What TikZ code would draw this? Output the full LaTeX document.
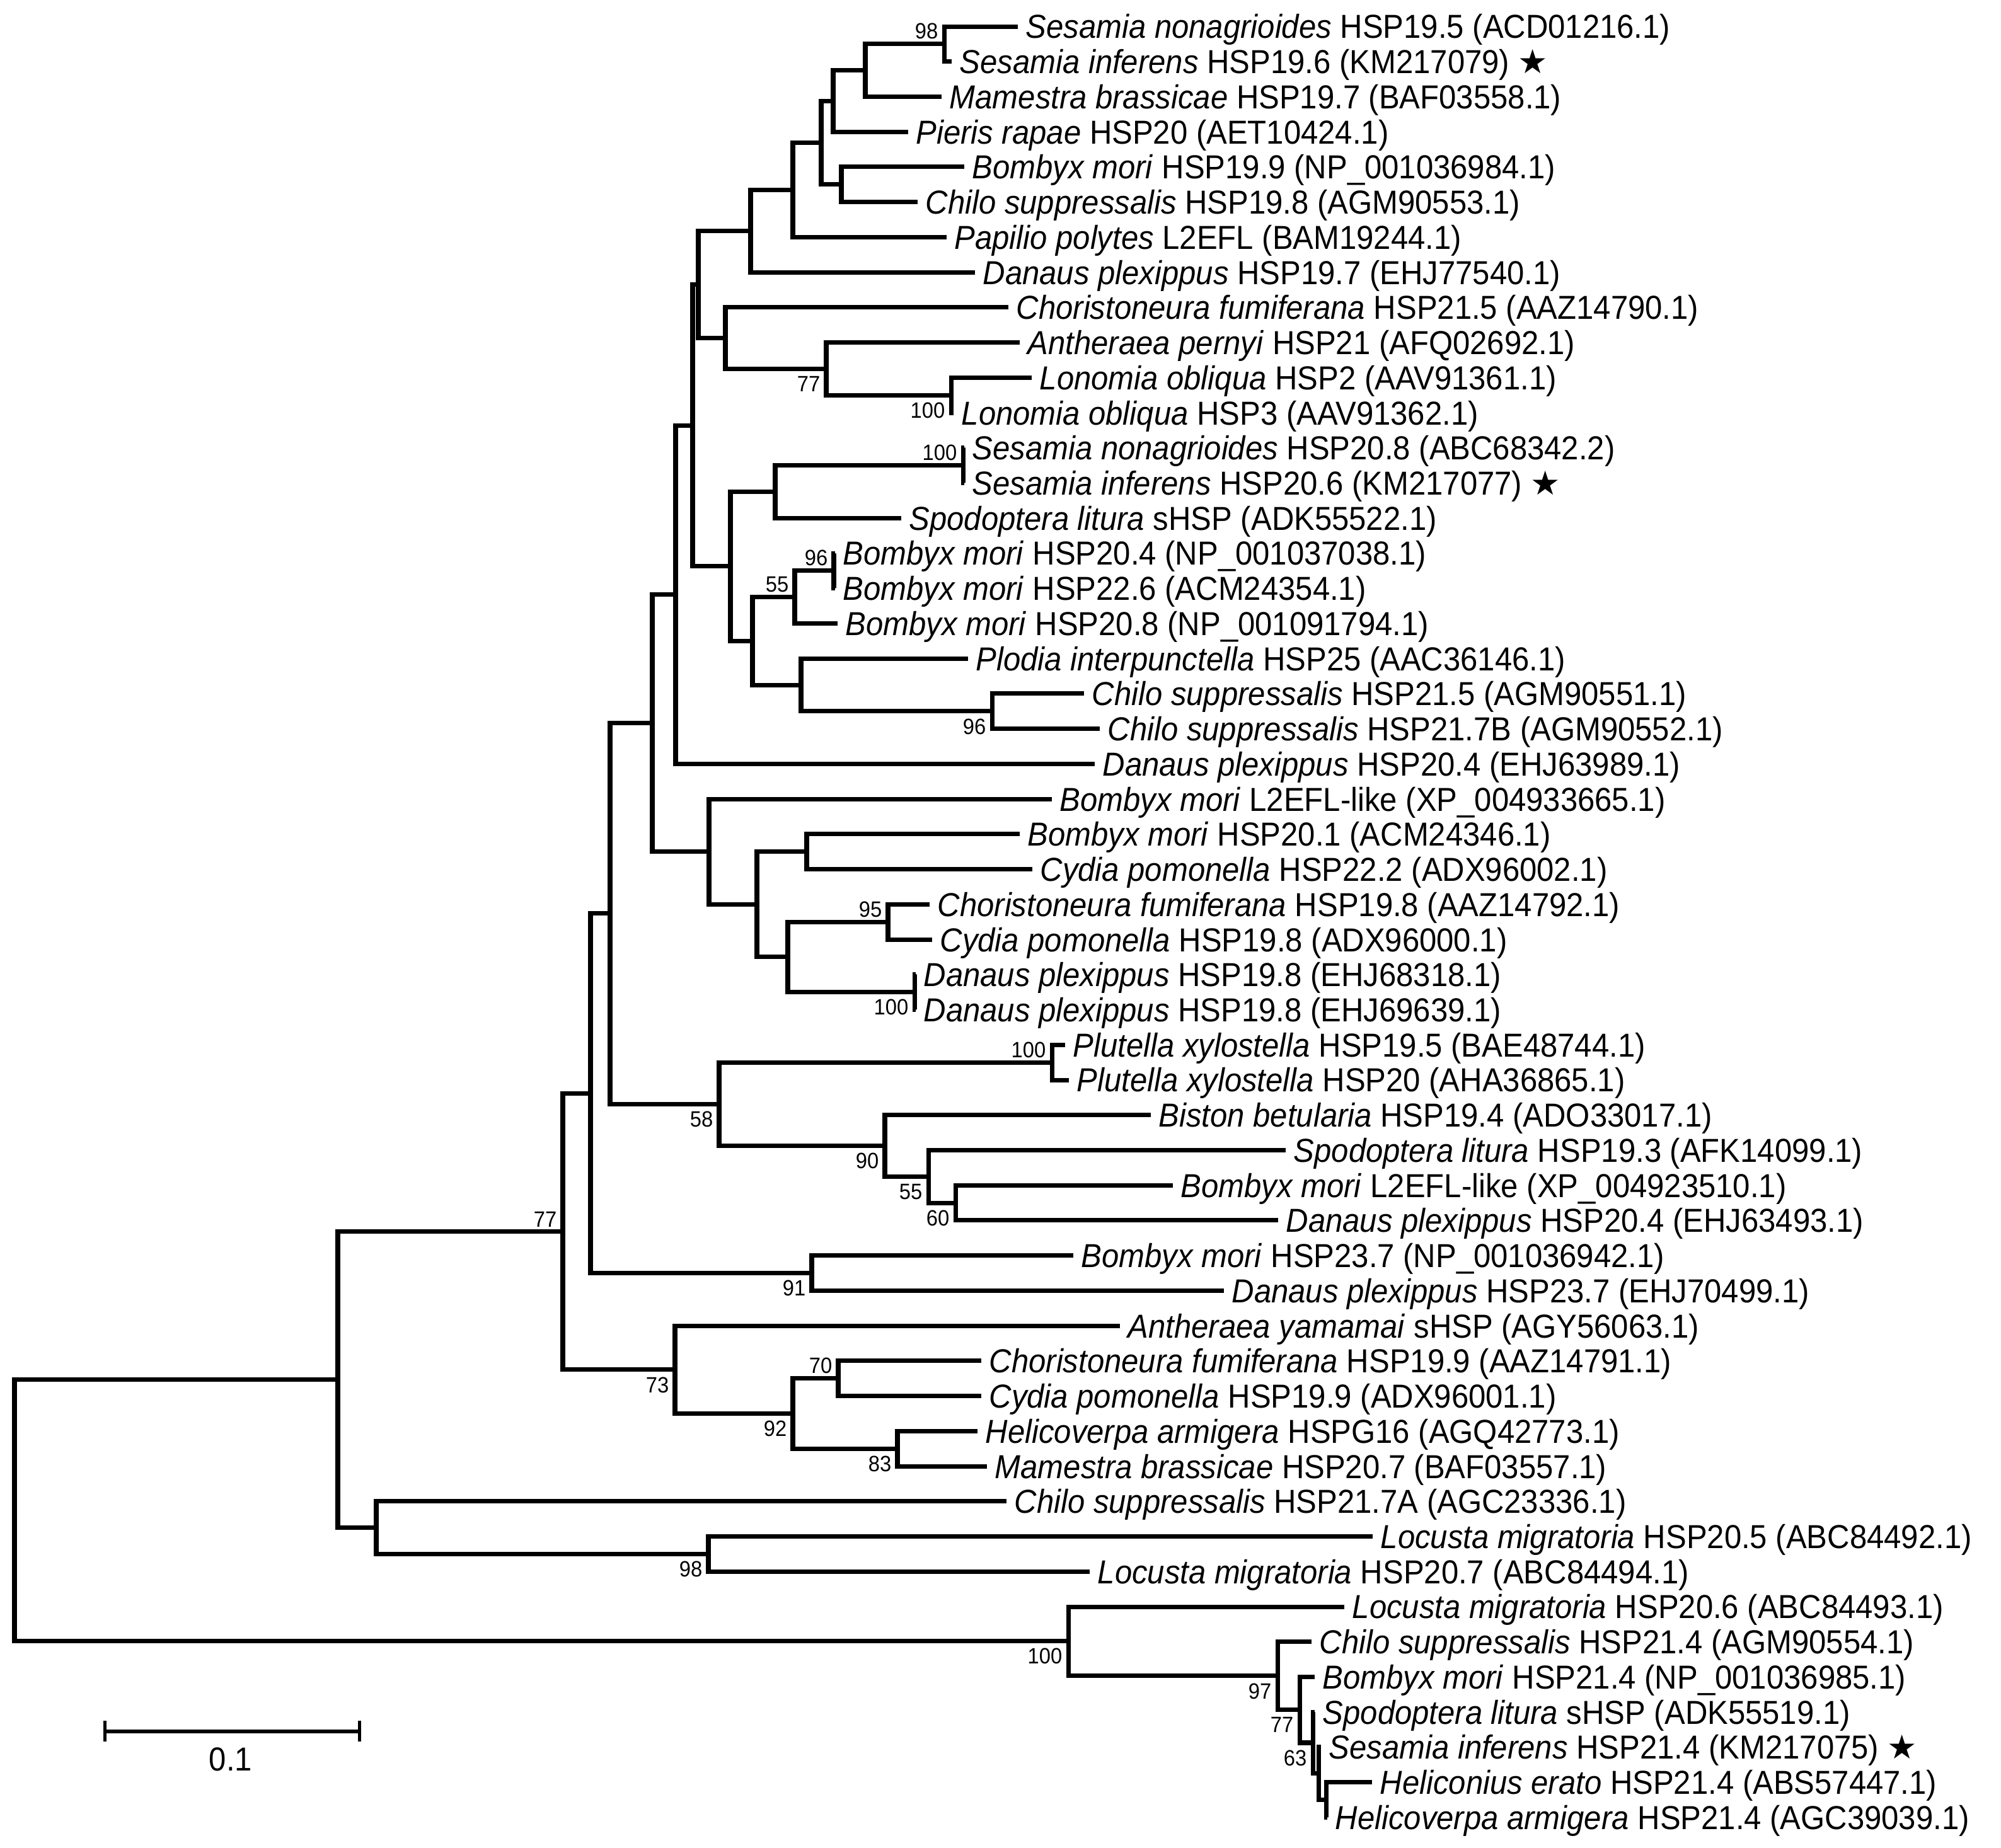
\documentclass[tikz,border=0pt]{standalone}
\usepackage{fontspec}
\setmainfont{Liberation Sans}[FakeStretch=0.93]
\newfontfamily\starfont{DejaVu Sans}
\usepackage{tikz}
\usetikzlibrary{arrows.meta,positioning}
\newcommand{\leaffont}{\fontsize{15}{17}\selectfont}
\newcommand{\bsfont}{\fontsize{10}{12}\selectfont}
\newcommand{\starsym}{{\starfont ★}}
\tikzset{
    %Define style for tree branches
    branch/.style={
           line width=2pt,
           line join=miter,
           line cap=butt},
    %Define style for taxon labels
    leaf/.style={
           anchor=west,
           inner xsep=0.12cm,
           inner ysep=0pt,
           text height=0.5cm,
           text depth=0.122cm,
           font=\leaffont},
    % Define styles for bootstrap values
    bsup/.style={
           anchor=south east,
           inner sep=0pt,
           xshift=-0.09cm,
           yshift=0.07cm,
           font=\bsfont},
    bsdown/.style={
           anchor=north east,
           inner sep=0pt,
           xshift=-0.09cm,
           yshift=-0.11cm,
           font=\bsfont},
    % Define scale bar style
    scalebar/.style={
           line width=1.5pt,
           {Bar[width=0.33cm]}-{Bar[width=0.33cm]}}
}

\begin{document}
\begin{tikzpicture}[x=0.01cm,y=-0.557cm]
\useasboundingbox (0,0.246) rectangle (3175,52.87);
% taxa
\foreach \idx/\xt/\spname/\gname in {
  1/1615/Sesamia nonagrioides/HSP19.5 (ACD01216.1),
  2/1510/Sesamia inferens/HSP19.6 (KM217079) \starsym,
  3/1494/Mamestra brassicae/HSP19.7 (BAF03558.1),
  4/1441/Pieris rapae/HSP20 (AET10424.1),
  5/1530/Bombyx mori/HSP19.9 (NP\_001036984.1),
  6/1456/Chilo suppressalis/HSP19.8 (AGM90553.1),
  7/1502/Papilio polytes/L2EFL (BAM19244.1),
  8/1547/Danaus plexippus/HSP19.7 (EHJ77540.1),
  9/1600/Choristoneura fumiferana/HSP21.5 (AAZ14790.1),
  10/1618/Antheraea pernyi/HSP21 (AFQ02692.1),
  11/1637/Lonomia obliqua/HSP2 (AAV91361.1),
  12/1513/Lonomia obliqua/HSP3 (AAV91362.1),
  13/1530/Sesamia nonagrioides/HSP20.8 (ABC68342.2),
  14/1530/Sesamia inferens/HSP20.6 (KM217077) \starsym,
  15/1430/Spodoptera litura/sHSP (ADK55522.1),
  16/1325/Bombyx mori/HSP20.4 (NP\_001037038.1),
  17/1325/Bombyx mori/HSP22.6 (ACM24354.1),
  18/1329/Bombyx mori/HSP20.8 (NP\_001091794.1),
  19/1536/Plodia interpunctella/HSP25 (AAC36146.1),
  20/1720/Chilo suppressalis/HSP21.5 (AGM90551.1),
  21/1745/Chilo suppressalis/HSP21.7B (AGM90552.1),
  22/1737/Danaus plexippus/HSP20.4 (EHJ63989.1),
  23/1669/Bombyx mori/L2EFL-like (XP\_004933665.1),
  24/1618/Bombyx mori/HSP20.1 (ACM24346.1),
  25/1638/Cydia pomonella/HSP22.2 (ADX96002.1),
  26/1475/Choristoneura fumiferana/HSP19.8 (AAZ14792.1),
  27/1479/Cydia pomonella/HSP19.8 (ADX96000.1),
  28/1453/Danaus plexippus/HSP19.8 (EHJ68318.1),
  29/1453/Danaus plexippus/HSP19.8 (EHJ69639.1),
  30/1690/Plutella xylostella/HSP19.5 (BAE48744.1),
  31/1696/Plutella xylostella/HSP20 (AHA36865.1),
  32/1826/Biston betularia/HSP19.4 (ADO33017.1),
  33/2040/Spodoptera litura/HSP19.3 (AFK14099.1),
  34/1861/Bombyx mori/L2EFL-like (XP\_004923510.1),
  35/2028/Danaus plexippus/HSP20.4 (EHJ63493.1),
  36/1703/Bombyx mori/HSP23.7 (NP\_001036942.1),
  37/1942/Danaus plexippus/HSP23.7 (EHJ70499.1),
  38/1777/Antheraea yamamai/sHSP (AGY56063.1),
  39/1557/Choristoneura fumiferana/HSP19.9 (AAZ14791.1),
  40/1557/Cydia pomonella/HSP19.9 (ADX96001.1),
  41/1551/Helicoverpa armigera/HSPG16 (AGQ42773.1),
  42/1566/Mamestra brassicae/HSP20.7 (BAF03557.1),
  43/1597/Chilo suppressalis/HSP21.7A (AGC23336.1),
  44/2178/Locusta migratoria/HSP20.5 (ABC84492.1),
  45/1729/Locusta migratoria/HSP20.7 (ABC84494.1),
  46/2133/Locusta migratoria/HSP20.6 (ABC84493.1),
  47/2081/Chilo suppressalis/HSP21.4 (AGM90554.1),
  48/2086/Bombyx mori/HSP21.4 (NP\_001036985.1),
  49/2086/Spodoptera litura/sHSP (ADK55519.1),
  50/2096/Sesamia inferens/HSP21.4 (KM217075) \starsym,
  51/2177/Heliconius erato/HSP21.4 (ABS57447.1),
  52/2106/Helicoverpa armigera/HSP21.4 (AGC39039.1)}
  \node[leaf] (l\idx) at (\xt,\idx) {\textit{\spname} \gname};

% internal nodes
\coordinate (n98) at (1498,1.5);
\coordinate (nA) at (1373,2.25);
\coordinate (nB) at (1322,3.125);
\coordinate (nD) at (1335,5.5);
\coordinate (nC) at (1303,4.3125);
\coordinate (nE) at (1258,5.656);
\coordinate (nF) at (1191,6.828);
\coordinate (n100a) at (1509,11.5);
\coordinate (n77a) at (1311,10.75);
\coordinate (nH) at (1151,9.875);
\coordinate (nG) at (1108,8.352);
\coordinate (n100b) at (1528,13.5);
\coordinate (nM) at (1230,14.25);
\coordinate (n96a) at (1323,16.5);
\coordinate (n55a) at (1261,17.25);
\coordinate (n96b) at (1574,20.5);
\coordinate (nO) at (1271,19.75);
\coordinate (nN) at (1194,18.5);
\coordinate (nL) at (1159,16.375);
\coordinate (nI) at (1099,12.363);
\coordinate (nK) at (1072,17.18);
\coordinate (nT) at (1280,24.5);
\coordinate (n95) at (1409,26.5);
\coordinate (n100c) at (1451,28.5);
\coordinate (nU) at (1250,27.5);
\coordinate (nS) at (1201,26);
\coordinate (nQ) at (1125,24.5);
\coordinate (nP) at (1035,20.84);
\coordinate (n100e) at (1669,30.5);
\coordinate (n60) at (1516,34.5);
\coordinate (n55b) at (1473,33.75);
\coordinate (n90) at (1404,32.875);
\coordinate (n58) at (1141,31.69);
\coordinate (nR) at (968,26.26);
\coordinate (n91) at (1288,36.5);
\coordinate (nV) at (937,31.38);
\coordinate (n70) at (1330,39.5);
\coordinate (n83) at (1424,41.5);
\coordinate (n92) at (1258,40.5);
\coordinate (n73) at (1071,39.25);
\coordinate (nW) at (893,35.32);
\coordinate (n98b) at (1124,44.5);
\coordinate (nY) at (597,43.75);
\coordinate (nX) at (536,39.53);
\coordinate (nZ2) at (2104,51.5);
\coordinate (nZ1) at (2092,50.75);
\coordinate (n63) at (2083,49.875);
\coordinate (n77b) at (2062,48.94);
\coordinate (n97) at (2027,47.97);
\coordinate (n100d) at (1695,46.98);
\coordinate (root) at (23,43.26);

% branches
\begin{scope}[branch]
\draw (l1.west) -| (n98) |- (l2.west);
\draw (n98) -| (nA) |- (l3.west);
\draw (nA) -| (nB) |- (l4.west);
\draw (l5.west) -| (nD) |- (l6.west);
\draw (nB) -| (nC) |- (nD);
\draw (nC) -| (nE) |- (l7.west);
\draw (nE) -| (nF) |- (l8.west);
\draw (l11.west) -| (n100a) |- (l12.west);
\draw (l10.west) -| (n77a) |- (n100a);
\draw (l9.west) -| (nH) |- (n77a);
\draw (nF) -| (nG) |- (nH);
\draw (l13.west) -| (n100b) |- (l14.west);
\draw (n100b) -| (nM) |- (l15.west);
\draw (l16.west) -| (n96a) |- (l17.west);
\draw (n96a) -| (n55a) |- (l18.west);
\draw (l20.west) -| (n96b) |- (l21.west);
\draw (l19.west) -| (nO) |- (n96b);
\draw (n55a) -| (nN) |- (nO);
\draw (nM) -| (nL) |- (nN);
\draw (nG) -| (nI) |- (nL);
\draw (nI) -| (nK) |- (l22.west);
\draw (l24.west) -| (nT) |- (l25.west);
\draw (l26.west) -| (n95) |- (l27.west);
\draw (l28.west) -| (n100c) |- (l29.west);
\draw (n95) -| (nU) |- (n100c);
\draw (nT) -| (nS) |- (nU);
\draw (l23.west) -| (nQ) |- (nS);
\draw (nK) -| (nP) |- (nQ);
\draw (l30.west) -| (n100e) |- (l31.west);
\draw (l34.west) -| (n60) |- (l35.west);
\draw (l33.west) -| (n55b) |- (n60);
\draw (l32.west) -| (n90) |- (n55b);
\draw (n100e) -| (n58) |- (n90);
\draw (nP) -| (nR) |- (n58);
\draw (l36.west) -| (n91) |- (l37.west);
\draw (nR) -| (nV) |- (n91);
\draw (l39.west) -| (n70) |- (l40.west);
\draw (l41.west) -| (n83) |- (l42.west);
\draw (n70) -| (n92) |- (n83);
\draw (l38.west) -| (n73) |- (n92);
\draw (nV) -| (nW) |- (n73);
\draw (l44.west) -| (n98b) |- (l45.west);
\draw (l43.west) -| (nY) |- (n98b);
\draw (nW) -| (nX) |- (nY);
\draw (l51.west) -| (nZ2) |- (l52.west);
\draw (l50.west) -| (nZ1) |- (nZ2);
\draw (l49.west) -| (n63) |- (nZ1);
\draw (l48.west) -| (n77b) |- (n63);
\draw (l47.west) -| (n97) |- (n77b);
\draw (l46.west) -| (n100d) |- (n97);
\draw (nX) -| (root) |- (n100d);
\end{scope}

% bootstrap values
\node[bsup] (b1) at (n98) {98};
\node[bsdown] (b2) at (n77a) {77};
\node[bsdown] (b3) at (n100a) {100};
\node[bsup] (b4) at (n100b) {100};
\node[bsup] (b5) at (n96a) {96};
\node[bsup] (b6) at (n55a) {55};
\node[bsdown] (b7) at (n96b) {96};
\node[bsup] (b8) at (n95) {95};
\node[bsdown] (b9) at (n100c) {100};
\node[bsup] (b10) at (n100e) {100};
\node[bsdown] (b11) at (n58) {58};
\node[bsdown] (b12) at (n90) {90};
\node[bsdown] (b13) at (n55b) {55};
\node[bsdown] (b14) at (n60) {60};
\node[bsdown] (b15) at (n91) {91};
\node[bsup] (b16) at (nW) {77};
\node[bsdown] (b17) at (n73) {73};
\node[bsup] (b18) at (n70) {70};
\node[bsdown] (b19) at (n92) {92};
\node[bsdown] (b20) at (n83) {83};
\node[bsdown] (b21) at (n98b) {98};
\node[bsdown] (b22) at (n100d) {100};
\node[bsdown] (b23) at (n97) {97};
\node[bsdown] (b24) at (n77b) {77};
\node[bsdown] (b25) at (n63) {63};

% scale bar
\coordinate (sbl) at (164,49.55);
\coordinate (sbr) at (573,49.55);
\coordinate (sbmid) at (366,49.55);
\draw[scalebar] (sbl) -- (sbr);
\node[below=0.25cm of sbmid, inner sep=0pt, font=\leaffont] (sblab) {0.1};
\end{tikzpicture}
\end{document}
